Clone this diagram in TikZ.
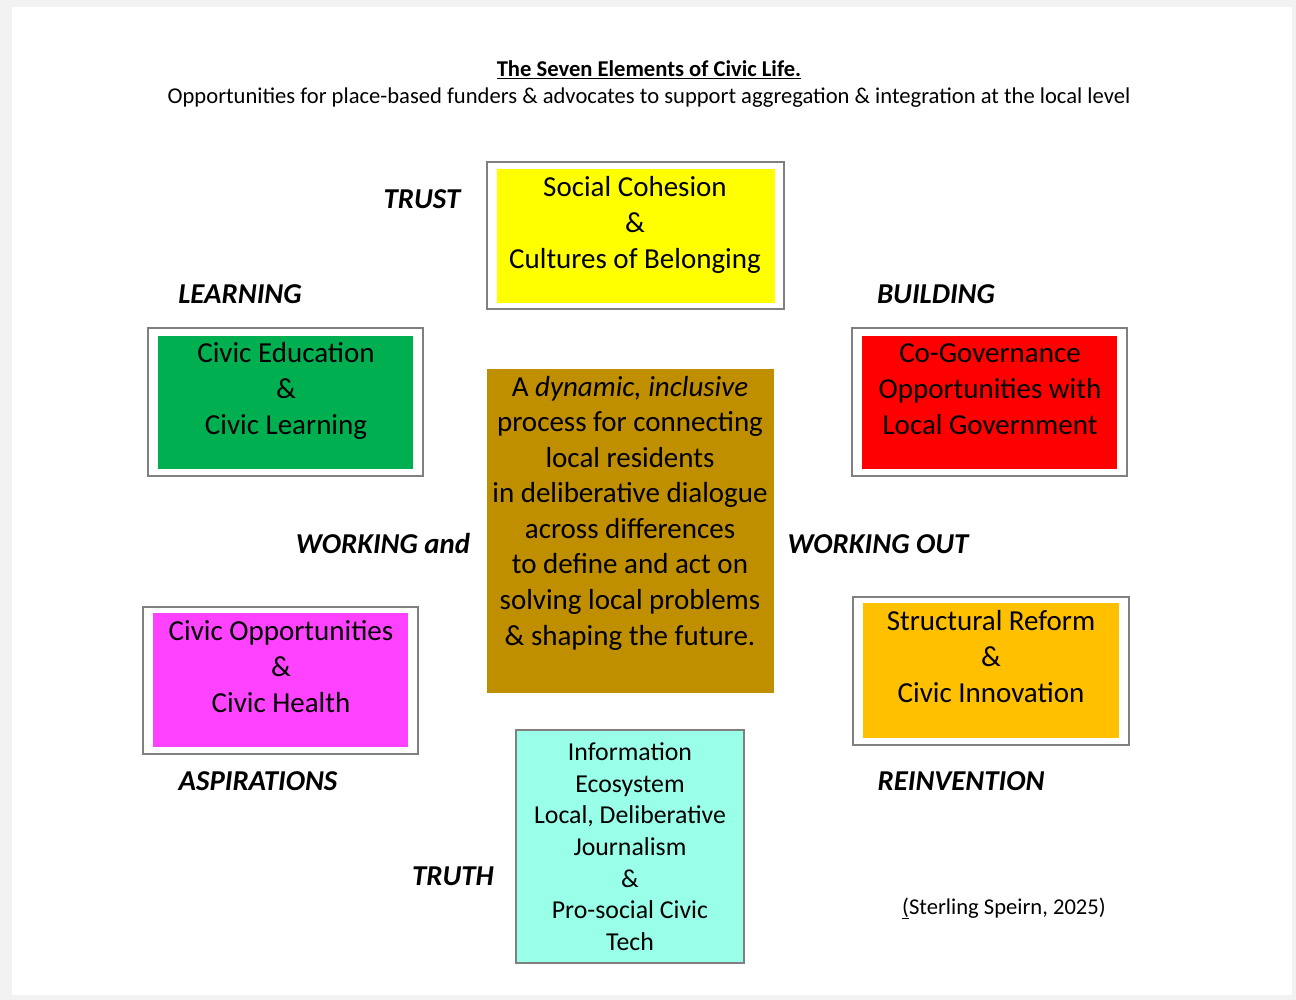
\documentclass[tikz,border=0pt]{standalone}
\usepackage{fontspec}
\setmainfont{Carlito}
\definecolor{pagegray}{HTML}{F2F2F2}
\definecolor{framegray}{HTML}{808080}
\definecolor{cyel}{HTML}{FFFF00}
\definecolor{cgreen}{HTML}{00B050}
\definecolor{cred}{HTML}{FF0000}
\definecolor{cmag}{HTML}{FF42FF}
\definecolor{corange}{HTML}{FFC000}
\definecolor{cbrown}{HTML}{BF8F00}
\definecolor{ccyan}{HTML}{99FFE8}
\begin{document}
\begin{tikzpicture}[x=1pt,y=-1pt,
  frame/.style={draw=framegray, line width=1.1pt, fill=white, inner sep=0pt},
  fillbox/.style={draw=none, inner sep=0pt},
  txt/.style={align=center, inner sep=0pt, font=\fontsize{29}{36}\selectfont},
  ctxt/.style={align=center, inner sep=0pt, font=\fontsize{29}{35.57}\selectfont},
  ytxt/.style={align=center, inner sep=0pt, font=\fontsize{25.8}{31.67}\selectfont},
  lbl/.style={anchor=base, inner sep=0pt, font=\fontsize{28.8}{32}\selectfont\bfseries\itshape}]
\fill[pagegray] (0,0) rectangle (1296,1000);
\fill[white] (12,7) rectangle (1292,995);
\useasboundingbox (0,0) rectangle (1296,1000);

% titles
\node[anchor=base, inner sep=0pt, font=\fontsize{22.6}{26}\selectfont\bfseries] (title) at (649,77) {\underline{The Seven Elements of Civic Life.}};
\node[anchor=base, inner sep=0pt, font=\fontsize{22.6}{26}\selectfont] (subtitle) at (649,104) {Opportunities for place-based funders \& advocates to support aggregation \& integration at the local level};

% yellow
\node[frame, minimum width=297pt, minimum height=147pt] (yframe) at (635.5,235.5) {};
\node[fillbox, fill=cyel, minimum width=278pt, minimum height=134pt] (ybox) at (636,236) {};
\node[txt] (ytext) at (635,225) {\strut Social Cohesion\\\strut \&\\\strut Cultures of Belonging};

% green
\node[frame, minimum width=275pt, minimum height=148pt] (gframe) at (285.5,402) {};
\node[fillbox, fill=cgreen, minimum width=255pt, minimum height=133pt] (gbox) at (285.5,402.5) {};
\node[txt] (gtext) at (286,391) {\strut Civic Education\\\strut \&\\\strut Civic Learning};

% red
\node[frame, minimum width=275pt, minimum height=148pt] (rframe) at (989.5,402) {};
\node[fillbox, fill=cred, minimum width=255pt, minimum height=133pt] (rbox) at (989.5,402.5) {};
\node[txt] (rtext) at (990,391) {\strut Co-Governance\\\strut Opportunities with\\\strut Local Government};

% magenta
\node[frame, minimum width=275pt, minimum height=147pt] (mframe) at (280.5,680.5) {};
\node[fillbox, fill=cmag, minimum width=255pt, minimum height=134pt] (mbox) at (280.5,680) {};
\node[txt] (mtext) at (281,669.5) {\strut Civic Opportunities\\\strut \&\\\strut Civic Health};

% orange
\node[frame, minimum width=276pt, minimum height=148pt] (oframe) at (991,671) {};
\node[fillbox, fill=corange, minimum width=256pt, minimum height=135pt] (obox) at (991,670.5) {};
\node[txt] (otext) at (991,659.5) {\strut Structural Reform\\\strut \&\\\strut Civic Innovation};

% brown centre
\node[fillbox, fill=cbrown, minimum width=287pt, minimum height=324pt] (cbox) at (630.5,531) {};
\node[ctxt] (ctext) at (630,513.5) {\strut A \textit{dynamic, inclusive}\\\strut process for connecting\\\strut local residents\\\strut in deliberative dialogue\\\strut across differences\\\strut to define and act on\\\strut solving local problems\\\strut \& shaping the future.};

% cyan
\node[fillbox, draw=framegray, line width=1.1pt, fill=ccyan, minimum width=228pt, minimum height=233pt] (cybox) at (630,846.5) {};
\node[ytxt] (cytext) at (630,849) {\strut Information\\\strut Ecosystem\\\strut Local, Deliberative\\\strut Journalism\\\strut \&\\\strut Pro-social Civic\\\strut Tech};

% labels
\node[lbl] (trust) at (422,209) {TRUST};
\node[lbl] (learning) at (240,304) {LEARNING};
\node[lbl] (building) at (936,304) {BUILDING};
\node[lbl] (workand) at (383,553) {WORKING and};
\node[lbl] (workout) at (878,553) {WORKING OUT};
\node[lbl] (aspir) at (258,790) {ASPIRATIONS};
\node[lbl] (reinv) at (961,790) {REINVENTION};
\node[lbl] (truth) at (453,885) {TRUTH};

% credit
\node[anchor=base, inner sep=0pt, font=\fontsize{22.6}{26}\selectfont] (credit) at (1004,914) {\underline{(}Sterling Speirn, 2025)};
\end{tikzpicture}
\end{document}
